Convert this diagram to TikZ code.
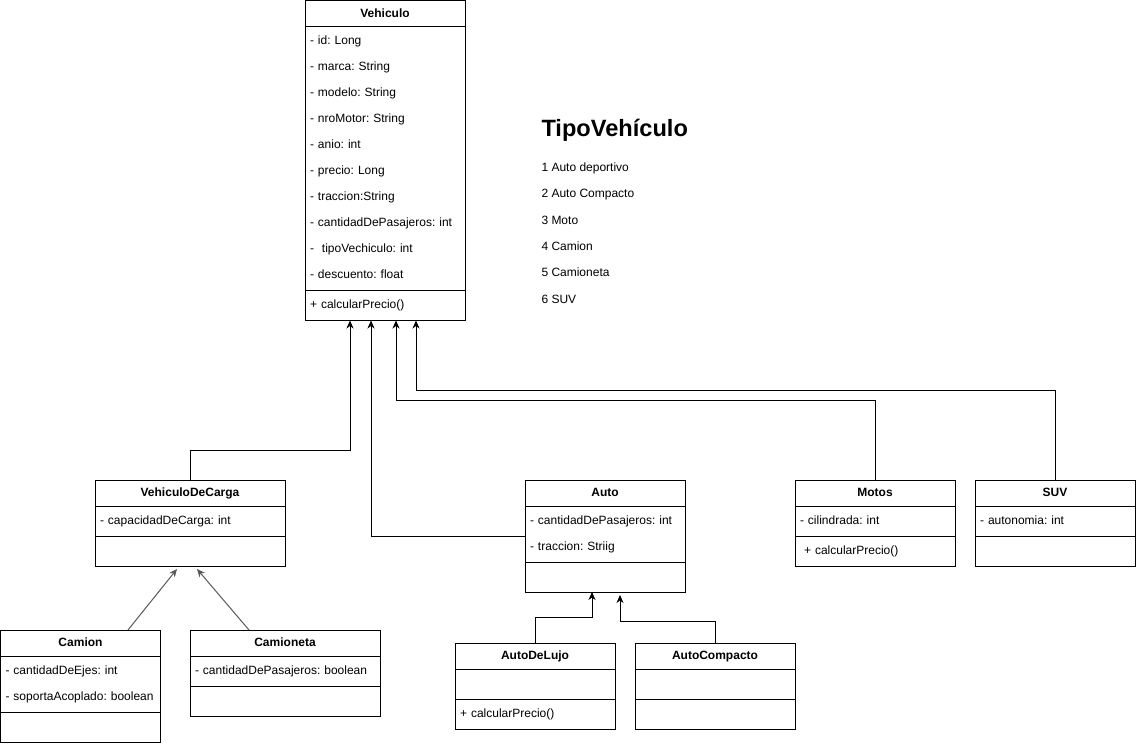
\documentclass[tikz,border=0pt]{standalone}
\usepackage{fontspec}
\setmainfont{Liberation Sans}
\usetikzlibrary{arrows.meta,positioning,fit}
\definecolor{linkgray}{HTML}{595959}
\newcommand{\rowstrut}{\rule[-2.6pt]{0pt}{11.4pt}}
\frenchspacing

\begin{document}
\begin{tikzpicture}[
  x=1pt, y=-1pt,
  font=\fontsize{12pt}{14pt}\selectfont,
  line width=1pt,
  cls/.style={draw, inner sep=0pt, outer sep=0pt, minimum width=#1, minimum height=26pt,
    text height=9.5pt, text depth=2pt, font=\fontsize{12pt}{14pt}\selectfont\bfseries},
  comp/.style={draw, inner xsep=5pt, inner ysep=0pt, outer sep=0pt, text width=#1, align=left,
    font=\fontsize{12pt}{26pt}\selectfont,
    execute at begin node=\rowstrut, execute at end node=\rowstrut},
  inh/.style={-{Stealth[length=8pt,width=7pt,inset=2.5pt]}},
  note/.style={anchor=base west, inner sep=0pt}
]
  \path[use as bounding box, fill=white] (0,0) rectangle (1136,746);

  % superclass
  \node[cls=160pt] (veh) at (385,13.5) {Vehiculo};
  \node[comp=150pt, minimum height=264pt, below=0pt of veh] (veh-a)
    {- id: Long\\- marca: String\\- modelo: String\\- nroMotor: String\\- anio: int\\
     - precio: Long\\- traccion:String\\- cantidadDePasajeros: int\\- \ tipoVechiculo: int\\
     - descuento: float};
  \node[comp=150pt, minimum height=30pt, below=0pt of veh-a] (veh-m) {+ calcularPrecio()};

  % type legend
  \node[note, font=\fontsize{23.6pt}{28pt}\selectfont\bfseries] (tipo) at (541,137) {TipoVehículo};
  \foreach \idx/\kind in {1/Auto deportivo, 2/Auto Compacto, 3/Moto, 4/Camion, 5/Camioneta, 6/SUV}
    \node[note] (tipo-\idx) at (541,{144.9+26.4*\idx}) {\idx\ \kind};

  % subclasses
  \node[cls=190pt] (carga) at (190,493) {VehiculoDeCarga};
  \node[comp=180pt, minimum height=30pt, below=0pt of carga] (carga-a) {- capacidadDeCarga: int};
  \node[comp=180pt, minimum height=30pt, below=0pt of carga-a] (carga-m) {};

  \node[cls=160pt] (auto) at (605,493) {Auto};
  \node[comp=150pt, minimum height=56pt, below=0pt of auto] (auto-a)
    {- cantidadDePasajeros: int\\- traccion: Striig};
  \node[comp=150pt, minimum height=30pt, below=0pt of auto-a] (auto-m) {};
  \node[fit=(auto)(auto-m), inner sep=0pt] (auto-box) {};

  \node[cls=160pt] (motos) at (875,493) {Motos};
  \node[comp=150pt, minimum height=30pt, below=0pt of motos] (motos-a) {- cilindrada: int};
  \node[comp=150pt, minimum height=30pt, below=0pt of motos-a] (motos-m) {\ + calcularPrecio()};

  \node[cls=160pt] (suv) at (1055,493) {SUV};
  \node[comp=150pt, minimum height=30pt, below=0pt of suv] (suv-a) {- autonomia: int};
  \node[comp=150pt, minimum height=30pt, below=0pt of suv-a] (suv-m) {};

  % cargo vehicles
  \node[cls=160pt] (camion) at (80.5,643) {Camion};
  \node[comp=150pt, minimum height=56pt, below=0pt of camion] (camion-a)
    {- cantidadDeEjes: int\\- soportaAcoplado: boolean};
  \node[comp=150pt, minimum height=30pt, below=0pt of camion-a] (camion-m) {};

  \node[cls=190pt] (camioneta) at (285,643) {Camioneta};
  \node[comp=180pt, minimum height=30pt, below=0pt of camioneta] (camioneta-a)
    {- cantidadDePasajeros: boolean};
  \node[comp=180pt, minimum height=30pt, below=0pt of camioneta-a] (camioneta-m) {};

  % cars
  \node[cls=160pt] (lujo) at (535,656) {AutoDeLujo};
  \node[comp=150pt, minimum height=30pt, below=0pt of lujo] (lujo-a) {};
  \node[comp=150pt, minimum height=30pt, below=0pt of lujo-a] (lujo-m) {+ calcularPrecio()};

  \node[cls=160pt] (compacto) at (715,656) {AutoCompacto};
  \node[comp=150pt, minimum height=30pt, below=0pt of compacto] (compacto-a) {};
  \node[comp=150pt, minimum height=30pt, below=0pt of compacto-a] (compacto-m) {};

  % inheritance
  \draw[inh] (carga.north) -- ++(0,-30) -| ([xshift=-35pt]veh-m.south);
  \draw[inh] (auto-box.west) -| ([xshift=-14pt]veh-m.south);
  \draw[inh] (motos.north) -- ++(0,-80) -| ([xshift=11pt]veh-m.south);
  \draw[inh] (suv.north) -- ++(0,-90) -| ([xshift=31pt]veh-m.south);

  \draw[inh, linkgray] ([xshift=47.5pt]camion.north) -- ([xshift=-13pt,yshift=-3pt]carga-m.south);
  \draw[inh, linkgray] ([xshift=-36pt]camioneta.north) -- ([xshift=7pt,yshift=-3pt]carga-m.south);

  \draw[inh] (lujo.north) -- ++(0,-26) -| ([xshift=-13pt]auto-m.south);
  \draw[inh] (compacto.north) -- ++(0,-22) -| ([xshift=15pt,yshift=-3pt]auto-m.south);
\end{tikzpicture}
\end{document}
